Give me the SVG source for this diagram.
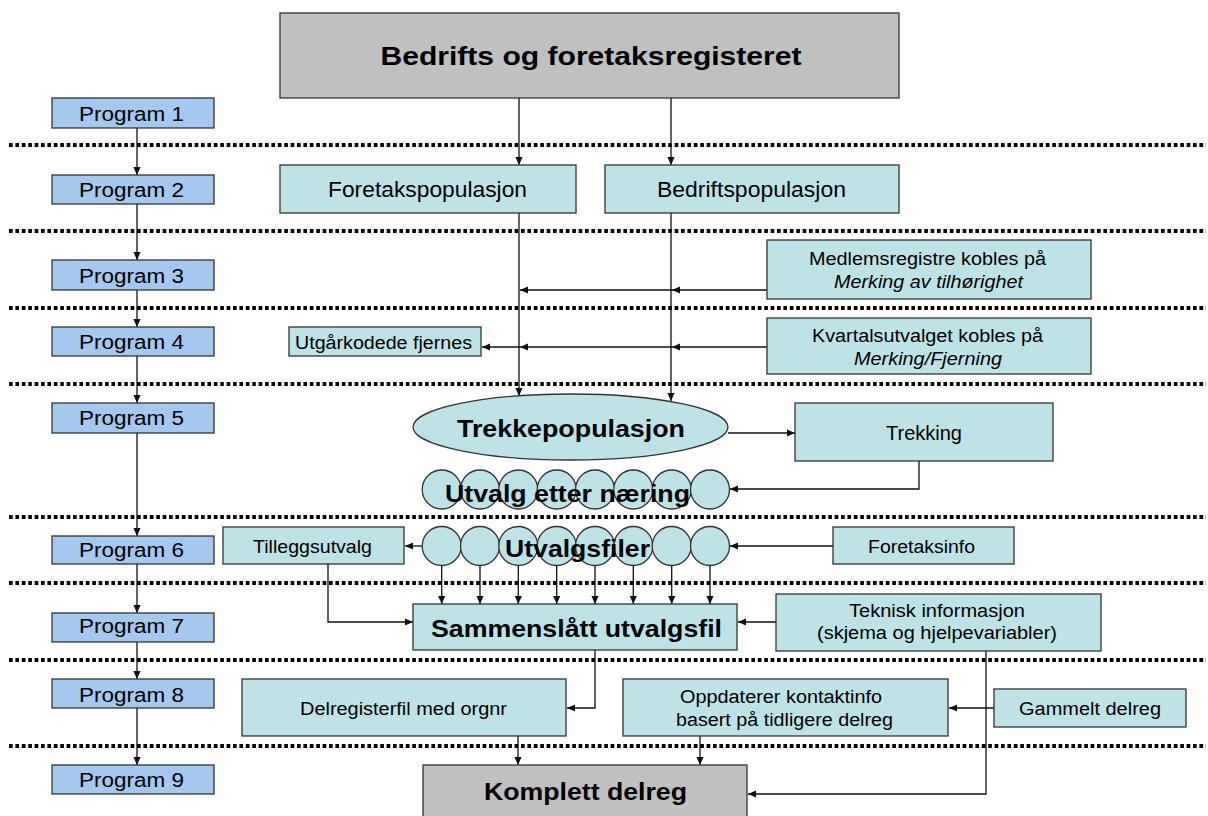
<svg xmlns="http://www.w3.org/2000/svg" width="1208" height="816" viewBox="0 0 1208 816">
<style>
text{font-family:"Liberation Sans",Arial,sans-serif;fill:#000;text-anchor:middle}
.prog{fill:#a4c8ee;stroke:#333;stroke-width:1.3}
.box{fill:#bee3e7;stroke:#333;stroke-width:1.3}
.grey{fill:#c0c0c0;stroke:#333;stroke-width:1.3}
.dot{stroke:#000;stroke-width:4;stroke-dasharray:3.7 2.7;fill:none}
.con path{fill:none;stroke:#111;stroke-width:1.3;marker-end:url(#ah)}
.pt{font-size:20px}
.md{font-size:18px}
.lg{font-size:22px}
.b{font-weight:bold;font-size:24px}
.i{font-style:italic}
</style>
<defs>
<marker id="ah" viewBox="0 0 10 10" refX="10" refY="5" markerWidth="8" markerHeight="8" markerUnits="userSpaceOnUse" orient="auto"><path d="M0,0.5 L10,5 L0,9.5 z" fill="#111"/></marker>
</defs>
<rect width="1208" height="816" fill="#fff"/>

<g id="separators">
<line class="dot" x1="9" y1="145" x2="1206" y2="145"/>
<line class="dot" x1="9" y1="231" x2="1206" y2="231"/>
<line class="dot" x1="9" y1="308" x2="1206" y2="308"/>
<line class="dot" x1="9" y1="384" x2="1206" y2="384"/>
<line class="dot" x1="9" y1="517" x2="1206" y2="517"/>
<line class="dot" x1="9" y1="583" x2="1206" y2="583"/>
<line class="dot" x1="9" y1="660" x2="1206" y2="660"/>
<line class="dot" x1="9" y1="746" x2="1206" y2="746"/>
</g>

<g id="connectors" class="con">
<path d="M137,128 V175"/>
<path d="M137,204 V260"/>
<path d="M137,290 V327"/>
<path d="M137,356 V403"/>
<path d="M137,433 V536"/>
<path d="M137,564 V613"/>
<path d="M137,642 V679"/>
<path d="M137,708 V765"/>
<path d="M519,98 V165"/>
<path d="M671,98 V165"/>
<path d="M519,213 V396"/>
<path d="M671,213 V401"/>
<path d="M767,290 H672"/>
<path d="M672,290 H520"/>
<path d="M767,347 H672"/>
<path d="M672,347 H520"/>
<path d="M520,347 H482"/>
<path d="M728,433 H795"/>
<path d="M919,461 V489 H730"/>
<path d="M833,546 H730"/>
<path d="M423,546 H405"/>
<path d="M328,564 V622 H413"/>
<path d="M441.7,565 V604"/>
<path d="M480,565 V604"/>
<path d="M518.3,565 V604"/>
<path d="M556.7,565 V604"/>
<path d="M595,565 V604"/>
<path d="M633.3,565 V604"/>
<path d="M671.7,565 V604"/>
<path d="M710,565 V604"/>
<path d="M776,622 H738"/>
<path d="M986,651 V794 H748"/>
<path d="M595,650 V708 H567"/>
<path d="M994,708 H949"/>
<path d="M518,736 V765"/>
<path d="M700,736 V765"/>
</g>

<g id="register">
<rect class="grey" x="280" y="13" width="619" height="85"/>
<text class="b" x="591" y="65" style="font-size:26px" textLength="421" lengthAdjust="spacingAndGlyphs">Bedrifts og foretaksregisteret</text>
</g>

<g id="program1"><rect class="prog" x="52" y="98" width="162" height="30"/><text class="pt" x="131.5" y="121" textLength="105" lengthAdjust="spacingAndGlyphs">Program 1</text></g>
<g id="program2"><rect class="prog" x="52" y="175" width="162" height="29"/><text class="pt" x="131.5" y="197" textLength="105" lengthAdjust="spacingAndGlyphs">Program 2</text></g>
<g id="program3"><rect class="prog" x="52" y="260" width="162" height="30"/><text class="pt" x="131.5" y="283" textLength="105" lengthAdjust="spacingAndGlyphs">Program 3</text></g>
<g id="program4"><rect class="prog" x="52" y="327" width="162" height="29"/><text class="pt" x="131.5" y="349" textLength="105" lengthAdjust="spacingAndGlyphs">Program 4</text></g>
<g id="program5"><rect class="prog" x="52" y="403" width="162" height="30"/><text class="pt" x="131.5" y="425" textLength="105" lengthAdjust="spacingAndGlyphs">Program 5</text></g>
<g id="program6"><rect class="prog" x="52" y="536" width="162" height="28"/><text class="pt" x="131.5" y="557" textLength="105" lengthAdjust="spacingAndGlyphs">Program 6</text></g>
<g id="program7"><rect class="prog" x="52" y="613" width="162" height="29"/><text class="pt" x="131.5" y="633" textLength="105" lengthAdjust="spacingAndGlyphs">Program 7</text></g>
<g id="program8"><rect class="prog" x="52" y="679" width="162" height="29"/><text class="pt" x="131.5" y="702" textLength="105" lengthAdjust="spacingAndGlyphs">Program 8</text></g>
<g id="program9"><rect class="prog" x="52" y="765" width="162" height="29"/><text class="pt" x="131.5" y="787" textLength="105" lengthAdjust="spacingAndGlyphs">Program 9</text></g>

<g id="foretakspopulasjon"><rect class="box" x="280" y="165" width="296" height="48"/><text class="lg" x="427.5" y="197" textLength="199" lengthAdjust="spacingAndGlyphs">Foretakspopulasjon</text></g>
<g id="bedriftspopulasjon"><rect class="box" x="605" y="165" width="294" height="48"/><text class="lg" x="751.5" y="197" textLength="189" lengthAdjust="spacingAndGlyphs">Bedriftspopulasjon</text></g>

<g id="medlemsregistre"><rect class="box" x="767" y="240" width="324" height="59"/>
<text class="md" x="927.5" y="265" textLength="237" lengthAdjust="spacingAndGlyphs">Medlemsregistre kobles på</text>
<text class="md i" x="928.5" y="288" textLength="189" lengthAdjust="spacingAndGlyphs">Merking av tilhørighet</text></g>

<g id="kvartalsutvalget"><rect class="box" x="767" y="318" width="324" height="56"/>
<text class="md" x="927.5" y="342" textLength="231" lengthAdjust="spacingAndGlyphs">Kvartalsutvalget kobles på</text>
<text class="md i" x="928" y="365" textLength="148" lengthAdjust="spacingAndGlyphs">Merking/Fjerning</text></g>

<g id="utgarkodede"><rect class="box" x="289" y="327" width="192" height="29"/>
<text class="md" x="383.5" y="349" textLength="177" lengthAdjust="spacingAndGlyphs">Utgårkodede fjernes</text></g>

<g id="trekkepopulasjon"><ellipse class="box" cx="570.5" cy="427" rx="157.5" ry="33"/>
<text class="b" x="571" y="437" textLength="228" lengthAdjust="spacingAndGlyphs">Trekkepopulasjon</text></g>

<g id="trekking"><rect class="box" x="795" y="403" width="258" height="58"/>
<text class="pt" x="924" y="440" textLength="76" lengthAdjust="spacingAndGlyphs">Trekking</text></g>

<g id="utvalg-etter-naering">
<circle class="box" cx="441.7" cy="489.5" r="19.5"/><circle class="box" cx="480" cy="489.5" r="19.5"/><circle class="box" cx="518.3" cy="489.5" r="19.5"/><circle class="box" cx="556.7" cy="489.5" r="19.5"/><circle class="box" cx="595" cy="489.5" r="19.5"/><circle class="box" cx="633.3" cy="489.5" r="19.5"/><circle class="box" cx="671.7" cy="489.5" r="19.5"/><circle class="box" cx="710" cy="489.5" r="19.5"/>
<text class="b" x="567.5" y="502" textLength="245" lengthAdjust="spacingAndGlyphs">Utvalg etter næring</text></g>

<g id="utvalgsfiler">
<circle class="box" cx="441.7" cy="546" r="19.5"/><circle class="box" cx="480" cy="546" r="19.5"/><circle class="box" cx="518.3" cy="546" r="19.5"/><circle class="box" cx="556.7" cy="546" r="19.5"/><circle class="box" cx="595" cy="546" r="19.5"/><circle class="box" cx="633.3" cy="546" r="19.5"/><circle class="box" cx="671.7" cy="546" r="19.5"/><circle class="box" cx="710" cy="546" r="19.5"/>
<text class="b" x="577.5" y="557" textLength="145" lengthAdjust="spacingAndGlyphs">Utvalgsfiler</text></g>

<g id="tilleggsutvalg"><rect class="box" x="223" y="527" width="181" height="37"/>
<text class="md" x="312.5" y="553" textLength="119" lengthAdjust="spacingAndGlyphs">Tilleggsutvalg</text></g>

<g id="foretaksinfo"><rect class="box" x="833" y="527" width="181" height="37"/>
<text class="md" x="921.5" y="553" textLength="107" lengthAdjust="spacingAndGlyphs">Foretaksinfo</text></g>

<g id="sammenslatt"><rect class="box" x="413" y="604" width="324" height="46"/>
<text class="b" x="576.5" y="637" textLength="291" lengthAdjust="spacingAndGlyphs">Sammenslått utvalgsfil</text></g>

<g id="teknisk"><rect class="box" x="776" y="594" width="325" height="57"/>
<text class="md" x="937" y="617" textLength="176" lengthAdjust="spacingAndGlyphs">Teknisk informasjon</text>
<text class="md" x="937" y="639" textLength="240" lengthAdjust="spacingAndGlyphs">(skjema og hjelpevariabler)</text></g>

<g id="delregisterfil"><rect class="box" x="242" y="679" width="324" height="57"/>
<text class="md" x="403.5" y="715" textLength="207" lengthAdjust="spacingAndGlyphs">Delregisterfil med orgnr</text></g>

<g id="oppdaterer"><rect class="box" x="623" y="679" width="325" height="57"/>
<text class="md" x="781" y="703" textLength="202" lengthAdjust="spacingAndGlyphs">Oppdaterer kontaktinfo</text>
<text class="md" x="784.5" y="726" textLength="217" lengthAdjust="spacingAndGlyphs">basert på tidligere delreg</text></g>

<g id="gammelt"><rect class="box" x="994" y="689" width="192" height="38"/>
<text class="md" x="1090" y="715" textLength="142" lengthAdjust="spacingAndGlyphs">Gammelt delreg</text></g>

<g id="komplett"><rect class="grey" x="423" y="765" width="324" height="60"/>
<text class="b" x="585.5" y="800" textLength="203" lengthAdjust="spacingAndGlyphs">Komplett delreg</text></g>
</svg>
